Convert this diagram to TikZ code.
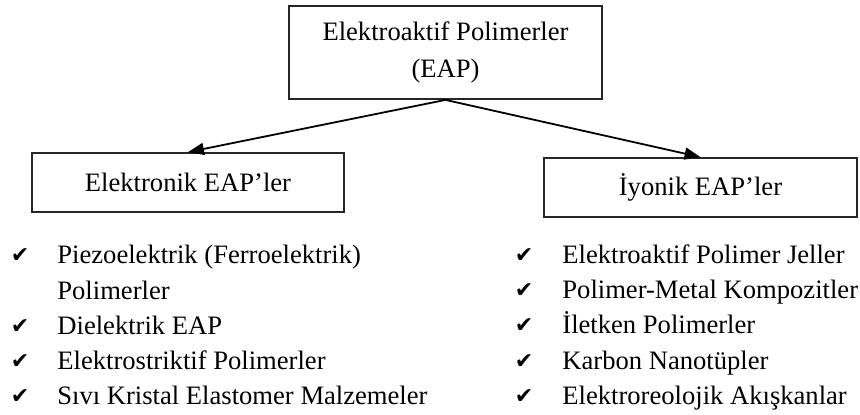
\documentclass[tikz,border=0pt]{standalone}
\usepackage{fontspec}
\setmainfont{Liberation Serif}
\newfontfamily\symfont{DejaVu Sans}
\usetikzlibrary{arrows.meta}
\begin{document}
\begin{tikzpicture}[x=0.5pt,y=-0.5pt,
  box/.style={draw=black!85, line width=0.9pt, inner sep=0pt, align=center,
    font=\fontsize{13.3}{18.5}\selectfont},
  item/.style={anchor=base west, inner sep=0pt, font=\fontsize{13.3}{15}\selectfont},
  tick/.style={anchor=base, inner sep=0pt, font=\symfont\fontsize{11}{12}\selectfont},
  arr/.style={-{Triangle[length=8pt,width=6pt]}, line width=0.9pt}]
\useasboundingbox (0,0) rectangle (860,414);

\node[box, minimum width=156.5pt, minimum height=46.5pt] (top) at (445.5,52.5)
  {Elektroaktif Polimerler\\(EAP)};
\node[box, minimum width=156pt, minimum height=29.5pt] (left) at (188,182.5)
  {Elektronik EAP’ler};
\node[box, minimum width=156.5pt, minimum height=29.5pt] (right) at (700.5,187.5)
  {İyonik EAP’ler};

\draw[arr] (top.south) -- (left.north);
\draw[arr] (top.south) -- (right.north);

% left list
\node[tick] (lt1) at (20,262) {✔};
\node[item] (l1) at (57,263) {Piezoelektrik (Ferroelektrik)};
\node[item] (l1b) at (57,299) {Polimerler};
\node[tick] (lt2) at (20,333) {✔};
\node[item] (l2) at (57,334) {Dielektrik EAP};
\node[tick] (lt3) at (20,368) {✔};
\node[item] (l3) at (57,369) {Elektrostriktif Polimerler};
\node[tick] (lt4) at (20,403) {✔};
\node[item] (l4) at (57,404) {Sıvı Kristal Elastomer Malzemeler};

% right list
\node[tick] (rt1) at (524,262) {✔};
\node[item] (r1) at (562,263) {Elektroaktif Polimer Jeller};
\node[tick] (rt2) at (524,297) {✔};
\node[item] (r2) at (562,298) {Polimer-Metal Kompozitler};
\node[tick] (rt3) at (524,332) {✔};
\node[item] (r3) at (562,333) {İletken Polimerler};
\node[tick] (rt4) at (524,368) {✔};
\node[item] (r4) at (562,369) {Karbon Nanotüpler};
\node[tick] (rt5) at (524,403) {✔};
\node[item] (r5) at (562,404) {Elektroreolojik Akışkanlar};
\end{tikzpicture}
\end{document}
